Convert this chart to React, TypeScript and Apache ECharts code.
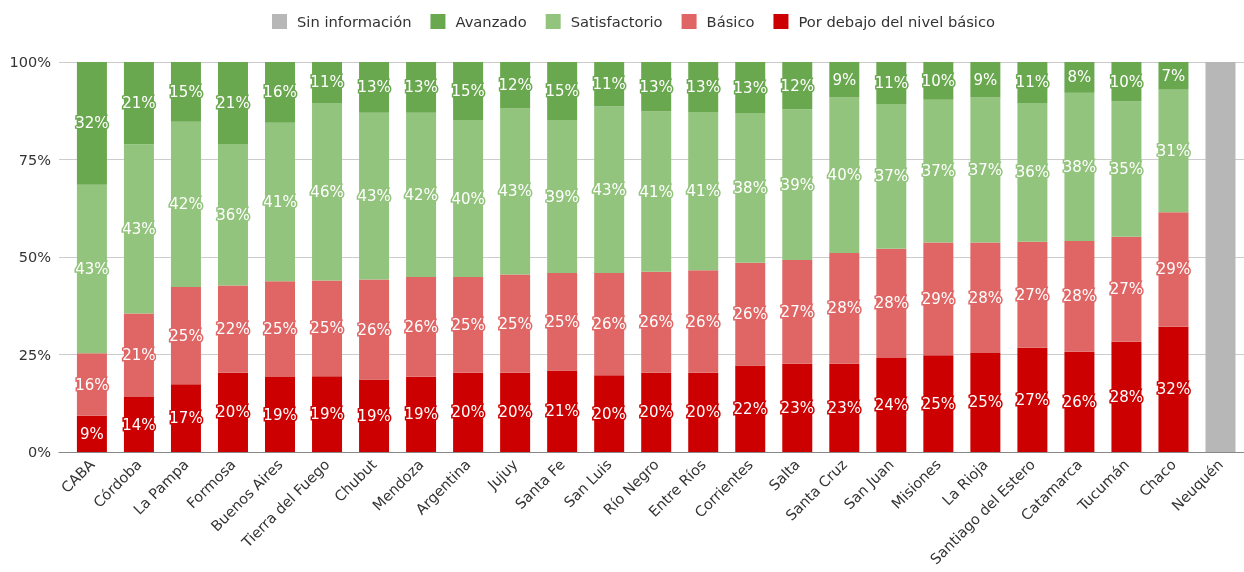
import React, { useEffect, useRef } from "react";
import * as echarts from "echarts";

const categories = [
  "CABA", "Córdoba", "La Pampa", "Formosa", "Buenos Aires", "Tierra del Fuego", "Chubut",
  "Mendoza", "Argentina", "Jujuy", "Santa Fe", "San Luis", "Río Negro", "Entre Ríos",
  "Corrientes", "Salta", "Santa Cruz", "San Juan", "Misiones", "La Rioja",
  "Santiago del Estero", "Catamarca", "Tucumán", "Chaco", "Neuquén",
];

const porDebajo = [9.3, 14.1, 17.4, 20.3, 19.2, 19.4, 18.6, 19.3, 20.3, 20.3, 20.9, 19.7, 20.3, 20.3, 22.2, 22.6, 22.6, 24.1, 24.8, 25.4, 26.7, 25.7, 28.3, 32.1, null];
const basico = [16.0, 21.4, 24.9, 22.4, 24.6, 24.6, 25.6, 25.6, 24.6, 25.2, 25.0, 26.2, 25.9, 26.3, 26.3, 26.6, 28.4, 28.0, 28.9, 28.3, 27.2, 28.4, 26.9, 29.4, null];
const satisfactorio = [43.2, 43.4, 42.4, 36.3, 40.6, 45.5, 42.8, 42.1, 40.2, 42.6, 39.2, 42.7, 41.1, 40.6, 38.4, 38.7, 39.9, 37.1, 36.6, 37.2, 35.6, 38.0, 34.7, 31.4, null];
const avanzado = [31.5, 21.1, 15.3, 21.0, 15.6, 10.5, 13.0, 13.0, 14.9, 11.9, 14.9, 11.4, 12.7, 12.8, 13.1, 12.1, 9.1, 10.8, 9.7, 9.1, 10.5, 7.9, 10.1, 7.1, null];
const sinInformacion = [null, null, null, null, null, null, null, null, null, null, null, null, null, null, null, null, null, null, null, null, null, null, null, null, 100];

const yTicks = [0, 25, 50, 75, 100];

const FONT = "DejaVu Sans";

export default function App() {
  const ref = useRef<HTMLDivElement>(null);
  useEffect(() => {
    if (!ref.current) return;
    const chart = echarts.init(ref.current, undefined, { renderer: "svg" });
    const mk = (name: string, data: (number | null)[], color: string, showLabel: boolean) => ({
      name,
      type: "bar",
      stack: "total",
      xAxisIndex: 0,
      yAxisIndex: 0,
      data,
      barWidth: 30,
      itemStyle: { color },
      label: {
        show: showLabel,
        position: "inside",
        color: "#ffffff",
        fontFamily: FONT,
        fontSize: 15,
        textBorderColor: color,
        textBorderWidth: 3,
        formatter: (p: any) => (p.value == null ? "" : Math.round(p.value) + "%"),
      },
    });
    const top = 62;
    const bottom = 120;
    chart.setOption({
      animation: false,
      textStyle: { fontFamily: FONT },
      legend: {
        top: 9,
        left: 267,
        itemWidth: 15,
        itemHeight: 15,
        itemGap: 19,
        icon: "rect",
        textStyle: { fontFamily: FONT, fontSize: 14.7, color: "#333333", padding: [0, 0, 0, 5] },
        data: ["Sin información", "Avanzado", "Satisfactorio", "Básico", "Por debajo del nivel básico"],
      },
      grid: [
        { left: 68.4, right: -4.4, top, bottom, containLabel: false },
        { left: 59, right: 0, top, bottom, containLabel: false },
      ],
      xAxis: [
        {
          type: "category",
          gridIndex: 0,
          data: categories,
          axisTick: { show: false },
          axisLine: { show: false },
          axisLabel: { rotate: 45, interval: 0, fontFamily: FONT, fontSize: 14.5, color: "#333333", margin: 10 },
        },
        {
          type: "value",
          gridIndex: 1,
          min: 0,
          max: 1,
          axisLine: { show: true, onZero: false, lineStyle: { color: "#888888", width: 1 } },
          axisLabel: { show: false },
          axisTick: { show: false },
          splitLine: { show: false },
        },
      ],
      yAxis: [
        {
          type: "value",
          gridIndex: 0,
          min: yTicks[0],
          max: yTicks[yTicks.length - 1],
          interval: 25,
          axisLabel: { show: false },
          splitLine: { show: false },
          axisLine: { show: false },
          axisTick: { show: false },
        },
        {
          type: "value",
          gridIndex: 1,
          min: yTicks[0],
          max: yTicks[yTicks.length - 1],
          interval: 25,
          axisLabel: { fontFamily: FONT, fontSize: 14.5, color: "#333333", formatter: "{value}%", margin: 8 },
          splitLine: { lineStyle: { color: "#cccccc" } },
          axisLine: { show: false },
          axisTick: { show: false },
        },
      ],
      series: [
        mk("Por debajo del nivel básico", porDebajo, "#cc0000", true),
        mk("Básico", basico, "#e06666", true),
        mk("Satisfactorio", satisfactorio, "#93c47d", true),
        mk("Avanzado", avanzado, "#6aa84f", true),
        mk("Sin información", sinInformacion, "#b7b7b7", false),
      ],
    });
    return () => chart.dispose();
  }, []);
  return <div ref={ref} style={{ position: "fixed", left: 0, top: 0, width: 1244, height: 572 }} />;
}
